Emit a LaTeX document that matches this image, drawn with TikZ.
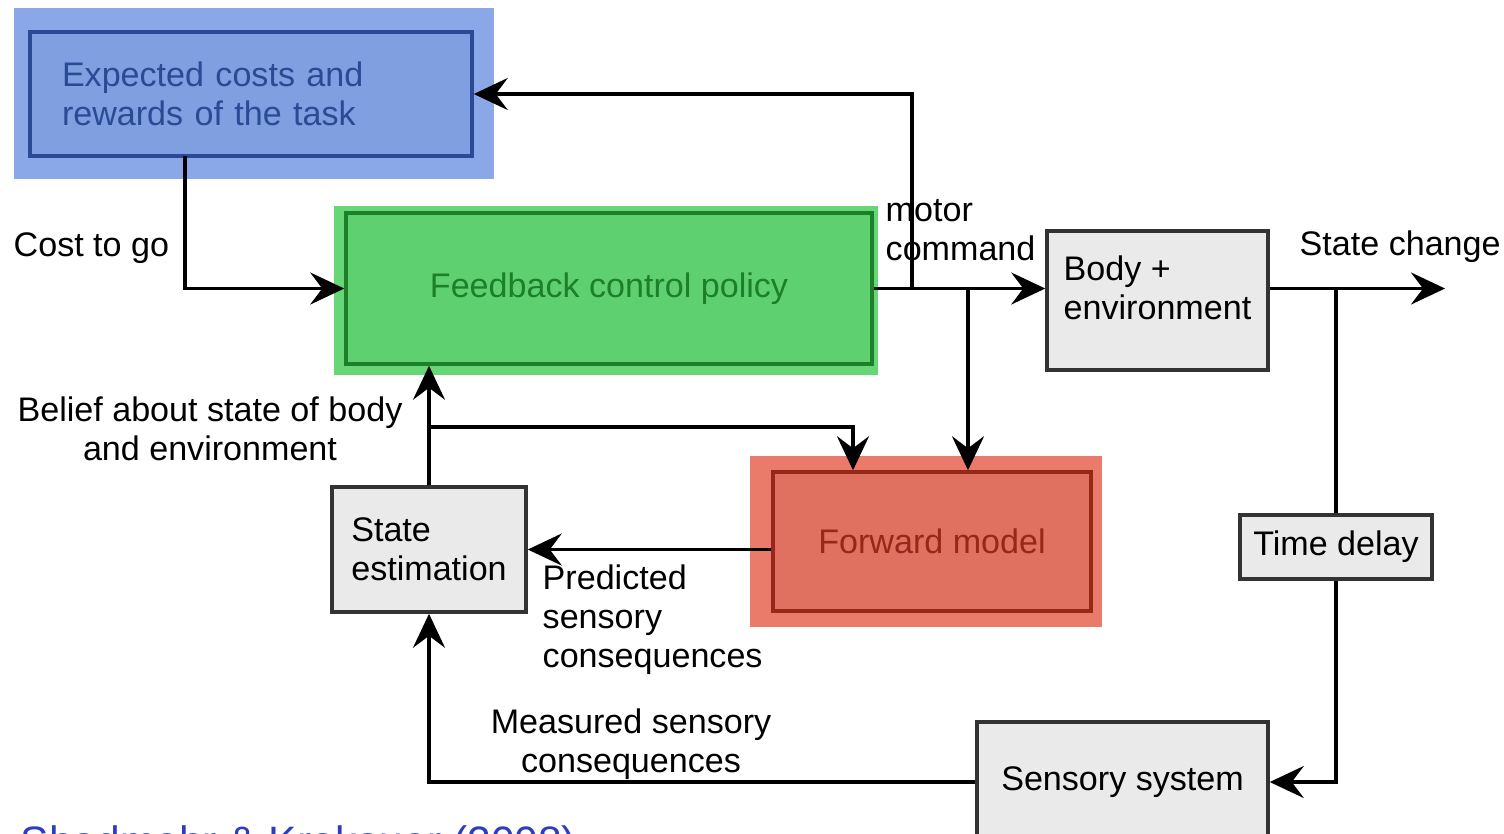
\documentclass[tikz,border=0pt]{standalone}
\usepackage{fontspec}
\setmainfont{Liberation Sans}
\usepackage{tikz}
\usetikzlibrary{arrows.meta}
\definecolor{taskblue}{RGB}{127,159,224}
\definecolor{taskbluelight}{RGB}{138,168,232}
\definecolor{taskbluedark}{RGB}{42,74,150}
\definecolor{policygreen}{RGB}{95,208,112}
\definecolor{policygreenlight}{RGB}{102,214,118}
\definecolor{policygreendark}{RGB}{28,128,42}
\definecolor{modelred}{RGB}{224,112,96}
\definecolor{modelredlight}{RGB}{234,122,106}
\definecolor{modelreddark}{RGB}{150,40,25}
\definecolor{boxgray}{RGB}{234,234,234}
\definecolor{citeblue}{RGB}{44,62,190}

\begin{document}
\begin{tikzpicture}[
    font=\fontsize{9.7}{11.1}\selectfont,
    block/.style={draw=black!80, fill=boxgray, line width=1pt, inner sep=0pt},
    arr/.style={line width=1pt, -{Stealth[length=3.4mm,width=3.2mm,inset=1.2mm]}},
    wire/.style={line width=1pt},
    lbl/.style={inner sep=0pt}
]
    \clip (0,0) rectangle (15.04,-8.33);
    \fill[white] (0,0) rectangle (15.04,-8.33);

    % Expected costs
    \fill[taskbluelight] (0.14,-0.08) rectangle (4.94,-1.79);
    \node[block, draw=taskbluedark, fill=taskblue, text=taskbluedark, minimum width=4.42cm, minimum height=1.24cm, text width=3.78cm, align=left] (costs) at (2.51,-0.94) {Expected costs and\\rewards of the task};

    % Feedback control policy
    \fill[policygreenlight] (3.34,-2.06) rectangle (8.78,-3.75);
    \node[block, draw=policygreendark, fill=policygreen, text=policygreendark, minimum width=5.26cm, minimum height=1.51cm] (policy) at (6.09,-2.885) {Feedback control policy};

    % Forward model
    \fill[modelredlight] (7.50,-4.56) rectangle (11.02,-6.27);
    \node[block, draw=modelreddark, fill=modelred, text=modelreddark, minimum width=3.18cm, minimum height=1.39cm] (model) at (9.32,-5.415) {Forward model};

    % Grey blocks
    \node[block, minimum width=2.21cm, minimum height=1.39cm, text depth=0.25cm, align=left] (body) at (11.575,-3.005) {Body +\\environment};
    \node[block, minimum width=1.94cm, minimum height=1.25cm, align=left] (estim) at (4.29,-5.495) {State\\estimation};
    \node[block, minimum width=1.92cm, minimum height=0.64cm] (delay) at (13.36,-5.47) {Time delay};
    \node[block, minimum width=2.91cm, minimum height=1.20cm] (sensor) at (11.225,-7.82) {Sensory system};

    % Branch points
    \coordinate (cost) at (1.85,-1.56);
    \coordinate (motorup) at (9.12,-2.885);
    \coordinate (motordown) at (9.68,-2.885);
    \coordinate (change) at (14.45,-2.885);
    \coordinate (tap) at (13.36,-2.885);
    \coordinate (belief) at (4.29,-4.27);

    % Connectors
    \draw[arr] (cost) |- (policy.west);
    \draw[arr] (policy.east) -- (policy.east -| body.west);
    \draw[arr] (motorup) |- (costs.east);
    \draw[arr] (motordown) -- (motordown |- model.north);
    \draw[arr] (body.east |- change) -- (change);
    \draw[wire] (tap) -- (delay.north);
    \draw[arr] (delay.south) |- (sensor.east);
    \draw[arr] (sensor.west) -| (estim.south);
    \draw[arr] (estim.north) -- (estim.north |- policy.south);
    \draw[arr] (belief) -| ([xshift=-0.79cm]model.north);
    \draw[arr] (model.west |- estim.east) -- (estim.east);

    % Labels
    \node[lbl, anchor=west] (costlbl) at (0.13,-2.48) {Cost to go};
    \node[lbl, anchor=west, align=left] (motorlbl) at (8.85,-2.30) {motor\\command};
    \node[lbl, anchor=west] (changelbl) at (12.99,-2.47) {State change};
    \node[lbl, align=center] (belieflbl) at (2.10,-4.29) {Belief about state of body\\and environment};
    \node[lbl, anchor=west, align=left] (predlbl) at (5.42,-6.20) {Predicted\\sensory\\consequences};
    \node[lbl, align=center] (measlbl) at (6.31,-7.445) {Measured sensory\\consequences};

    % Citation
    \node[lbl, anchor=base west, text=citeblue, font=\fontsize{12.1}{14}\selectfont] (cite) at (0.20,-8.56) {Shadmehr \& Krakauer (2008)};
\end{tikzpicture}
\end{document}
